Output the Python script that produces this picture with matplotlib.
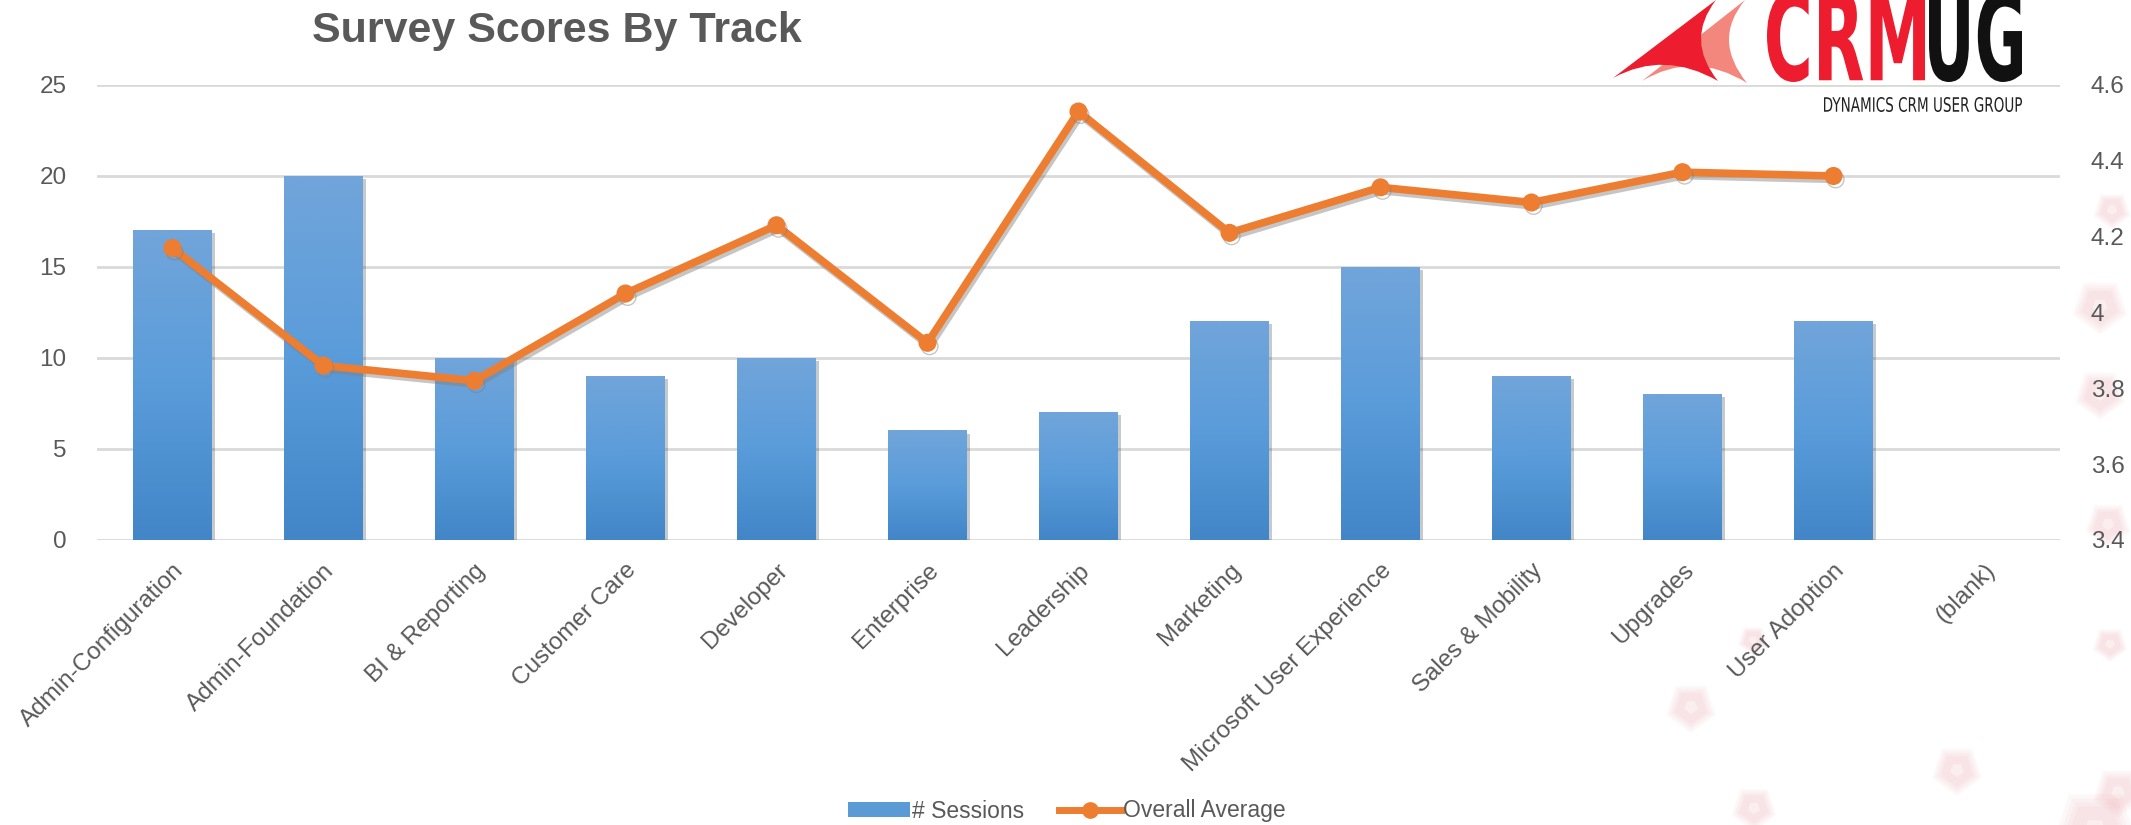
import numpy as np
import matplotlib
matplotlib.use('Agg')
import matplotlib.pyplot as plt
import matplotlib.patheffects as pe
from matplotlib.colors import LinearSegmentedColormap
from matplotlib.path import Path
from matplotlib.patches import PathPatch, Patch, RegularPolygon
from matplotlib.lines import Line2D
from matplotlib.textpath import TextPath
from matplotlib.font_manager import FontProperties

# survey results per track
tracks = ['Admin-Configuration', 'Admin-Foundation', 'BI & Reporting', 'Customer Care',
          'Developer', 'Enterprise', 'Leadership', 'Marketing',
          'Microsoft User Experience', 'Sales & Mobility', 'Upgrades', 'User Adoption',
          '(blank)']
sessions = [17, 20, 10, 9, 10, 6, 7, 12, 15, 9, 8, 12, 0]
overall_avg = [4.17, 3.86, 3.82, 4.05, 4.23, 3.92, 4.53, 4.21, 4.33, 4.29, 4.37, 4.36, np.nan]

left_ticks = [0, 5, 10, 15, 20, 25]
right_ticks = [3.4, 3.6, 3.8, 4.0, 4.2, 4.4, 4.6]

TEXT = '#595959'
BLUE = '#5b9bd5'
ORANGE = '#ed7d31'

plt.rcParams['font.family'] = ['Liberation Sans', 'DejaVu Sans']

fig = plt.figure(figsize=(21.31, 8.25), dpi=100)
fig.patch.set_facecolor('white')

# faint flower pattern in the background
bg = fig.add_axes([0, 0, 1, 1], zorder=-1)
bg.set_xlim(0, 2131)
bg.set_ylim(825, 0)
bg.axis('off')
flowers = [(1691, 707, 20), (1754, 808, 18), (1957, 770, 20), (2108, 524, 18),
           (2110, 644, 14), (2118, 792, 20), (2095, 830, 34), (2100, 306, 22),
           (2100, 394, 20), (2112, 210, 15), (1753, 640, 12)]
for fx, fy, fr in flowers:
    for k in range(4):
        bg.add_patch(RegularPolygon((fx, fy), 5, radius=fr * (1.3 - 0.15 * k),
                                    fc='#e05560', ec='none', alpha=0.04))
    bg.add_patch(RegularPolygon((fx, fy), 5, radius=fr * 0.35, fc='white', ec='none', alpha=0.4))

ax = fig.add_axes([0.0455, 0.3455, 0.9212, 0.5515])
ax.patch.set_visible(False)
x = np.arange(len(tracks))

bars = ax.bar(x, sessions, width=0.52, color=BLUE, zorder=2,
              path_effects=[pe.SimplePatchShadow(offset=(2, -2), alpha=0.25), pe.Normal()])

# vertical gradient fill on each bar
cmap = LinearSegmentedColormap.from_list('bars', ['#4286c8', '#5a9cda', '#71a5da'])
grad = np.linspace(0, 1, 256).reshape(-1, 1)
for b in bars:
    h = b.get_height()
    if h <= 0:
        continue
    x0 = b.get_x()
    ax.imshow(grad, cmap=cmap, extent=[x0, x0 + b.get_width(), 0, h],
              origin='lower', aspect='auto', zorder=3)

ax.set_xlim(-0.5, len(tracks) - 0.5)
ax.set_ylim(0, 25)
ax.set_yticks(left_ticks)
ax.yaxis.grid(True, color='#d9d9d9', lw=2)
ax.set_axisbelow(True)
for s in ax.spines.values():
    s.set_visible(False)
ax.set_xticks(x)
ax.set_xticklabels(tracks, rotation=45, ha='right', rotation_mode='anchor')
ax.tick_params(axis='x', length=0, pad=14, labelsize=17.5, labelcolor=TEXT)
ax.tick_params(axis='y', length=0, pad=22, labelsize=17.5, labelcolor=TEXT)

ax2 = ax.twinx()
ax2.plot(x, overall_avg, color=ORANGE, lw=5.5, marker='o', ms=12, zorder=4,
         path_effects=[pe.SimpleLineShadow(offset=(1.5, -2.5), shadow_color='gray', alpha=0.45),
                       pe.Normal()])
ax2.set_ylim(3.4, 4.6)
ax2.set_yticks(right_ticks)
ax2.set_yticklabels(['{:g}'.format(t) for t in right_ticks])
ax2.tick_params(axis='y', length=0, pad=22, labelsize=17.5, labelcolor=TEXT)
for s in ax2.spines.values():
    s.set_visible(False)

fig.text(557 / 2131, 1 - 31 / 825, 'Survey Scores By Track', ha='center', va='center',
         fontsize=31, weight='bold', color=TEXT)

handles = [Patch(facecolor=BLUE, edgecolor='none'),
           Line2D([], [], color=ORANGE, lw=5, marker='o', ms=11)]
fig.legend(handles, ['# Sessions', 'Overall Average'], loc='center',
           bbox_to_anchor=(1067 / 2131, 1 - 811 / 825), ncol=2, frameon=False,
           fontsize=16.5, labelcolor=TEXT, handlelength=2.7, handleheight=0.6,
           handletextpad=0.1, columnspacing=1.5)

# CRMUG logo, top right
logo = fig.add_axes([0, 0, 1, 1], zorder=5)
logo.set_xlim(0, 2131)
logo.set_ylim(825, 0)
logo.axis('off')


def fit_text(s, box, color, weight='bold'):
    tp = TextPath((0, 0), s, size=100, prop=FontProperties(family='DejaVu Sans', weight=weight))
    v = tp.vertices.copy()
    (bx0, by0), (bx1, by1) = tp.get_extents().get_points()
    x0, x1, ytop, ybot = box
    v[:, 0] = x0 + (v[:, 0] - bx0) * (x1 - x0) / (bx1 - bx0)
    v[:, 1] = ybot - (v[:, 1] - by0) * (ybot - ytop) / (by1 - by0)
    logo.add_patch(PathPatch(Path(v, tp.codes), fc=color, ec='none'))


def sail(tip, top, bottom, c_right, c_bottom, color):
    verts = [tip, top, c_right, bottom, c_bottom, tip, tip]
    codes = [Path.MOVETO, Path.LINETO, Path.CURVE3, Path.CURVE3,
             Path.CURVE3, Path.CURVE3, Path.CLOSEPOLY]
    logo.add_patch(PathPatch(Path(verts, codes), fc=color, ec='none'))


sail((1642, 81), (1745, 0), (1747, 83), (1712, 40), (1694, 50), '#f4877d')
sail((1613, 78), (1716, 0), (1718, 81), (1685, 40), (1664, 50), '#ed1c2e')
fit_text('CRM', (1767, 1925, -10, 82), '#ed1c2e')
fit_text('UG', (1929, 2022, -10, 82), '#111111')
fit_text('DYNAMICS CRM USER GROUP', (1824, 2022, 97, 112), '#222222', weight='normal')

fig.savefig('out.png', dpi=100)
